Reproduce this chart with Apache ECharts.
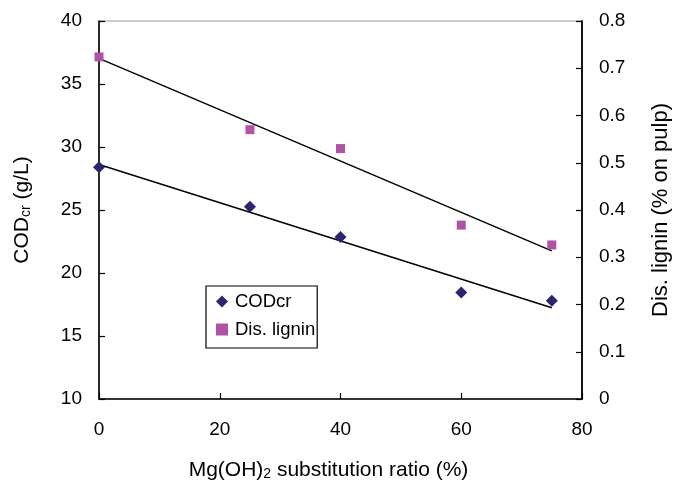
<!DOCTYPE html>
<html>
<head>
<meta charset="utf-8">
<script src="https://cdn.jsdelivr.net/npm/echarts@6/dist/echarts.min.js"></script>
<style>html,body{margin:0;padding:0;background:#fff}#c{width:675px;height:480px}</style>
</head>
<body>
<div id="c"></div>
<script>
// Data
var ratio = [0, 25, 40, 60, 75];                   // Mg(OH)2 substitution ratio (%)
var codcr = [28.4, 25.25, 22.85, 18.45, 17.8];     // CODcr (g/L)
var lignin = [0.724, 0.570, 0.530, 0.368, 0.326];  // Dis. lignin (% on pulp)
var xTicks = [0, 20, 40, 60, 80];
var leftTicks = [10, 15, 20, 25, 30, 35, 40];
var rightTicks = [0, 0.1, 0.2, 0.3, 0.4, 0.5, 0.6, 0.7, 0.8];

// Least-squares linear trend (like Excel trendline) derived from the data
function fit(xs, ys) {
  var n = xs.length, mx = 0, my = 0, sxx = 0, sxy = 0;
  for (var i = 0; i < n; i++) { mx += xs[i]; my += ys[i]; }
  mx /= n; my /= n;
  for (var j = 0; j < n; j++) { sxx += (xs[j] - mx) * (xs[j] - mx); sxy += (xs[j] - mx) * (ys[j] - my); }
  var b = sxy / sxx, a = my - b * mx;
  var x0 = xs[0], x1 = xs[n - 1];
  return [[x0, a + b * x0], [x1, a + b * x1]];
}
function pairs(xs, ys) { return xs.map(function (x, i) { return [x, ys[i]]; }); }

var FONT = 'Liberation Sans, Arial, sans-serif';
var chart = echarts.init(document.getElementById('c'), null, { renderer: 'canvas' });
chart.setOption({
  animation: false,
  backgroundColor: '#fff',
  textStyle: { fontFamily: FONT, color: '#000' },
  grid: { left: 99, right: 93, top: 21, bottom: 81, containLabel: false, outerBoundsMode: 'none', show: true, borderColor: '#999', borderWidth: 1, backgroundColor: 'transparent' },
  legend: {
    left: 206, top: 286,
    orient: 'vertical',
    data: ['CODcr', 'Dis. lignin'],
    itemWidth: 12, itemHeight: 12, itemGap: 9,
    padding: [6, 2, 9, 10],
    borderColor: '#000', borderWidth: 1.2, borderRadius: 0,
    backgroundColor: '#fff',
    itemStyle: { opacity: 1 },
    textStyle: { fontFamily: FONT, fontSize: 18.5, color: '#000', padding: [0, 0, 0, 2] }
  },
  xAxis: {
    type: 'value', min: 0, max: 80, interval: 20,
    name: 'Mg(OH){sub|2} substitution ratio (%)',
    nameLocation: 'middle', nameGap: 60,
    nameTextStyle: {
      fontFamily: FONT, fontSize: 21, color: '#000', padding: [0, 24, 0, 0],
      rich: { sub: { fontFamily: FONT, fontSize: 14, verticalAlign: 'bottom', padding: [8, 0, 0, 0] } }
    },
    axisLine: { lineStyle: { color: '#000', width: 1.6 } },
    axisTick: { inside: true, length: 6, lineStyle: { color: '#000', width: 1.2 } },
    axisLabel: { fontFamily: FONT, fontSize: 19, color: '#000', margin: 21 },
    splitLine: { show: false }
  },
  yAxis: [{
    type: 'value', min: 10, max: 40, interval: 5, position: 'left',
    name: 'COD{sub|cr} (g/L)',
    nameLocation: 'middle', nameGap: 66, nameRotate: 90,
    nameTextStyle: {
      fontFamily: FONT, fontSize: 21, color: '#000',
      rich: { sub: { fontFamily: FONT, fontSize: 14, padding: [8, 0, 0, 0] } }
    },
    axisLine: { show: true, lineStyle: { color: '#000', width: 1.6 } },
    axisTick: { show: true, inside: true, length: 6, lineStyle: { color: '#000', width: 1.2 } },
    axisLabel: { fontFamily: FONT, fontSize: 19, color: '#000', margin: 17 },
    splitLine: { show: false }
  }, {
    type: 'value', min: 0, max: 0.8, interval: 0.1, position: 'right',
    name: 'Dis. lignin (% on pulp)',
    nameLocation: 'middle', nameGap: 68, nameRotate: 90,
    nameTextStyle: { fontFamily: FONT, fontSize: 22, color: '#000' },
    axisLine: { show: true, lineStyle: { color: '#000', width: 1.8 } },
    axisTick: { show: true, inside: true, length: 6, lineStyle: { color: '#000', width: 1.2 } },
    axisLabel: { fontFamily: FONT, fontSize: 19, color: '#000', margin: 17, formatter: function (v) { return v === 0 ? '0' : v.toFixed(1); } },
    splitLine: { show: false }
  }],
  series: [
    {
      name: 'CODcr', type: 'scatter', yAxisIndex: 0, data: pairs(ratio, codcr),
      symbol: 'diamond', symbolSize: [12, 12],
      itemStyle: { color: '#29266f', opacity: 1 }, z: 5
    },
    {
      name: 'Dis. lignin', type: 'scatter', yAxisIndex: 1, data: pairs(ratio, lignin),
      symbol: 'rect', symbolSize: [9, 9],
      itemStyle: { color: '#ae53a6', opacity: 1 }, z: 5
    },
    {
      name: 'CODcr trend', type: 'line', yAxisIndex: 0, data: fit(ratio, codcr),
      showSymbol: false, symbol: 'none', lineStyle: { color: '#000', width: 1.5 }, z: 3, silent: true
    },
    {
      name: 'lignin trend', type: 'line', yAxisIndex: 1, data: fit(ratio, lignin),
      showSymbol: false, symbol: 'none', lineStyle: { color: '#000', width: 1.5 }, z: 3, silent: true
    }
  ]
});
</script>
</body>
</html>
